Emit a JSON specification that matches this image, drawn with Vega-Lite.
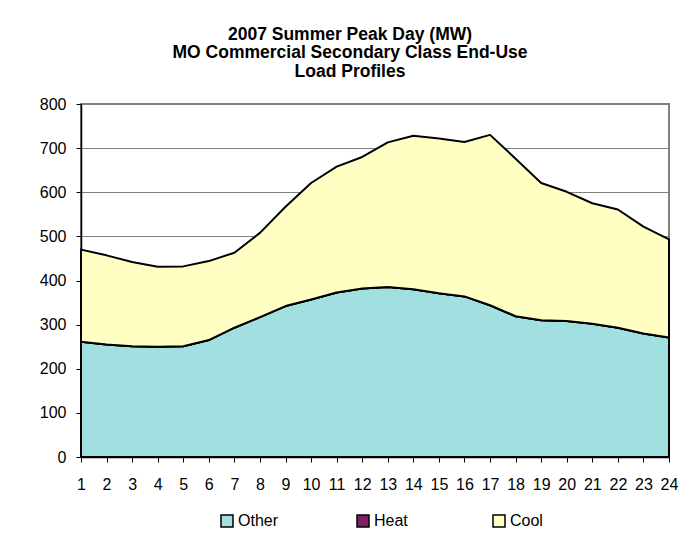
{
  "$schema": "https://vega.github.io/schema/vega-lite/v6.json",
  "autosize": "none",
  "width": 588,
  "height": 353,
  "padding": {"left": 81, "top": 104, "right": 23, "bottom": 93},
  "background": "white",
  "title": {
    "text": ["2007 Summer Peak Day (MW)", "MO Commercial Secondary Class End-Use", "Load Profiles"],
    "font": "Liberation Sans",
    "fontSize": 17.5,
    "fontWeight": "bold",
    "color": "black",
    "lineHeight": 18.5,
    "anchor": "middle",
    "offset": 16,
    "dx": -25
  },
  "data": {
    "values": [
      {"hour": 1, "use": "Other", "mw": 261}, {"hour": 1, "use": "Heat", "mw": 0}, {"hour": 1, "use": "Cool", "mw": 209},
      {"hour": 2, "use": "Other", "mw": 255}, {"hour": 2, "use": "Heat", "mw": 0}, {"hour": 2, "use": "Cool", "mw": 202},
      {"hour": 3, "use": "Other", "mw": 251}, {"hour": 3, "use": "Heat", "mw": 0}, {"hour": 3, "use": "Cool", "mw": 191},
      {"hour": 4, "use": "Other", "mw": 250}, {"hour": 4, "use": "Heat", "mw": 0}, {"hour": 4, "use": "Cool", "mw": 181},
      {"hour": 5, "use": "Other", "mw": 251}, {"hour": 5, "use": "Heat", "mw": 0}, {"hour": 5, "use": "Cool", "mw": 181},
      {"hour": 6, "use": "Other", "mw": 265}, {"hour": 6, "use": "Heat", "mw": 0}, {"hour": 6, "use": "Cool", "mw": 179},
      {"hour": 7, "use": "Other", "mw": 293}, {"hour": 7, "use": "Heat", "mw": 0}, {"hour": 7, "use": "Cool", "mw": 170},
      {"hour": 8, "use": "Other", "mw": 317}, {"hour": 8, "use": "Heat", "mw": 0}, {"hour": 8, "use": "Cool", "mw": 191},
      {"hour": 9, "use": "Other", "mw": 342}, {"hour": 9, "use": "Heat", "mw": 0}, {"hour": 9, "use": "Cool", "mw": 225},
      {"hour": 10, "use": "Other", "mw": 357}, {"hour": 10, "use": "Heat", "mw": 0}, {"hour": 10, "use": "Cool", "mw": 264},
      {"hour": 11, "use": "Other", "mw": 373}, {"hour": 11, "use": "Heat", "mw": 0}, {"hour": 11, "use": "Cool", "mw": 285},
      {"hour": 12, "use": "Other", "mw": 382}, {"hour": 12, "use": "Heat", "mw": 0}, {"hour": 12, "use": "Cool", "mw": 298},
      {"hour": 13, "use": "Other", "mw": 385}, {"hour": 13, "use": "Heat", "mw": 0}, {"hour": 13, "use": "Cool", "mw": 328},
      {"hour": 14, "use": "Other", "mw": 380}, {"hour": 14, "use": "Heat", "mw": 0}, {"hour": 14, "use": "Cool", "mw": 348},
      {"hour": 15, "use": "Other", "mw": 371}, {"hour": 15, "use": "Heat", "mw": 0}, {"hour": 15, "use": "Cool", "mw": 351},
      {"hour": 16, "use": "Other", "mw": 364}, {"hour": 16, "use": "Heat", "mw": 0}, {"hour": 16, "use": "Cool", "mw": 350},
      {"hour": 17, "use": "Other", "mw": 344}, {"hour": 17, "use": "Heat", "mw": 0}, {"hour": 17, "use": "Cool", "mw": 386},
      {"hour": 18, "use": "Other", "mw": 319}, {"hour": 18, "use": "Heat", "mw": 0}, {"hour": 18, "use": "Cool", "mw": 357},
      {"hour": 19, "use": "Other", "mw": 310}, {"hour": 19, "use": "Heat", "mw": 0}, {"hour": 19, "use": "Cool", "mw": 311},
      {"hour": 20, "use": "Other", "mw": 308}, {"hour": 20, "use": "Heat", "mw": 0}, {"hour": 20, "use": "Cool", "mw": 293},
      {"hour": 21, "use": "Other", "mw": 302}, {"hour": 21, "use": "Heat", "mw": 0}, {"hour": 21, "use": "Cool", "mw": 273},
      {"hour": 22, "use": "Other", "mw": 293}, {"hour": 22, "use": "Heat", "mw": 0}, {"hour": 22, "use": "Cool", "mw": 268},
      {"hour": 23, "use": "Other", "mw": 280}, {"hour": 23, "use": "Heat", "mw": 0}, {"hour": 23, "use": "Cool", "mw": 242},
      {"hour": 24, "use": "Other", "mw": 271}, {"hour": 24, "use": "Heat", "mw": 0}, {"hour": 24, "use": "Cool", "mw": 222}
    ]
  },
  "mark": {"type": "area", "stroke": "black", "strokeWidth": 2, "strokeJoin": "round", "opacity": 1},
  "encoding": {
    "x": {
      "field": "hour",
      "type": "quantitative",
      "scale": {"domain": [1, 24], "nice": false, "zero": false},
      "axis": {
        "title": null,
        "values": [1,2,3,4,5,6,7,8,9,10,11,12,13,14,15,16,17,18,19,20,21,22,23,24],
        "grid": false,
        "labelFont": "Liberation Sans",
        "labelFontSize": 16,
        "labelColor": "black",
        "labelPadding": 14,
        "labelOverlap": false,
        "labelFlush": false,
        "tickSize": 5,
        "tickColor": "black",
        "tickWidth": 1,
        "domainColor": "black",
        "domainWidth": 1.5
      }
    },
    "y": {
      "field": "mw",
      "type": "quantitative",
      "stack": "zero",
      "scale": {"domain": [0, 800], "nice": false},
      "axis": {
        "title": null,
        "values": [0,100,200,300,400,500,600,700,800],
        "grid": true,
        "gridColor": "#808080",
        "gridWidth": 1,
        "labelFont": "Liberation Sans",
        "labelFontSize": 16,
        "labelColor": "black",
        "labelPadding": 10,
        "tickSize": 5,
        "tickColor": "black",
        "domainColor": "black",
        "domainWidth": 1.5
      }
    },
    "color": {
      "field": "use",
      "type": "nominal",
      "scale": {"domain": ["Other", "Heat", "Cool"], "range": ["#a2dfe0", "#802060", "#ffffc4"]},
      "legend": {
        "title": null,
        "orient": "none",
        "legendX": 138,
        "legendY": 409,
        "direction": "horizontal",
        "columns": 3,
        "gridAlign": "all",
        "columnPadding": 75,
        "padding": 0,
        "symbolType": "square",
        "symbolSize": 144,
        "symbolStrokeColor": "black",
        "symbolStrokeWidth": 1.5,
        "symbolOpacity": 1,
        "labelFont": "Liberation Sans",
        "labelFontSize": 16,
        "labelColor": "black",
        "labelOffset": 3
      }
    },
    "order": {"field": "ord", "type": "quantitative"}
  },
  "transform": [
    {"calculate": "datum.use === 'Other' ? 0 : datum.use === 'Heat' ? 1 : 2", "as": "ord"}
  ],
  "config": {
    "view": {"stroke": "#808080", "strokeWidth": 2}
  }
}
